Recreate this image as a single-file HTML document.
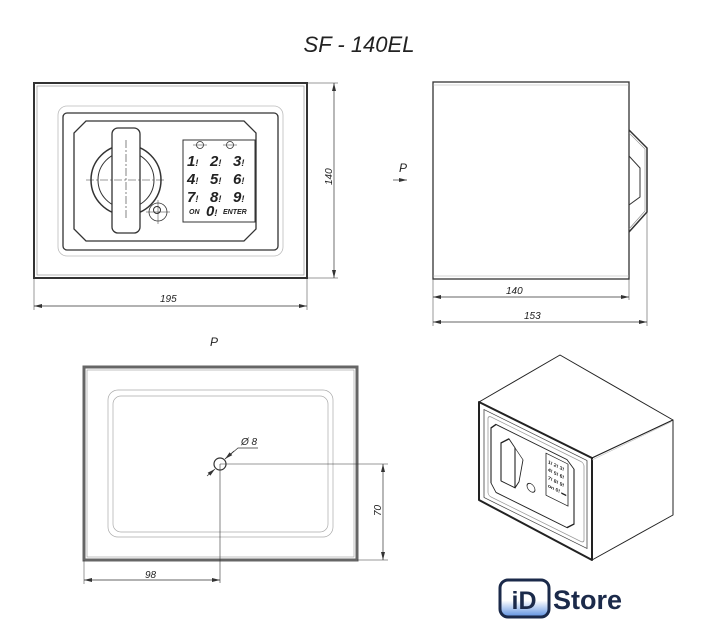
<!DOCTYPE html>
<html><head><meta charset="utf-8"><style>
html,body{margin:0;padding:0;background:#fff;width:706px;height:640px;overflow:hidden}
svg{display:block}
text{font-family:"Liberation Sans",sans-serif;font-style:italic;fill:#222}
text.n{font-style:normal;fill:#1b2a4a}
</style></head><body>
<svg width="706" height="640" viewBox="0 0 706 640" xmlns="http://www.w3.org/2000/svg">
<defs>
<marker id="a" markerWidth="8" markerHeight="6" refX="8" refY="3" orient="auto-start-reverse" markerUnits="userSpaceOnUse"><path d="M0,1 L8,3 L0,5 Z" fill="#333"/></marker>
<linearGradient id="g" x1="0" y1="0" x2="0" y2="1"><stop offset="0.55" stop-color="#fff"/><stop offset="1" stop-color="#5b8fe0"/></linearGradient>
</defs>
<text x="359" y="52" font-size="22" text-anchor="middle">SF - 140EL</text>

<!-- Front view -->
<g fill="none" stroke="#333">
<rect x="34" y="83" width="273" height="195" stroke-width="2"/>
<rect x="37" y="86" width="267" height="189" stroke="#999" stroke-width="0.7"/>
<rect x="58" y="106" width="225" height="150" rx="9" stroke="#bbb" stroke-width="0.8"/>
<rect x="63" y="113" width="215" height="137" rx="4" stroke-width="1.3"/>
<path d="M86,121 L244,121 L256,133 L256,229 L244,241 L86,241 L74,229 L74,133 Z" stroke-width="1.3"/>
<rect x="183" y="140" width="72" height="82" stroke-width="1"/>
<circle cx="126" cy="180" r="35" stroke-width="1.5"/>
<circle cx="126" cy="180" r="28" stroke-width="1"/>
<rect x="112" y="128" width="28" height="105" rx="6" fill="#fff" stroke-width="1.3"/>
<path d="M86,180 L166,180 M126,140 L126,220" stroke-width="0.6" stroke-dasharray="8,2,2,2"/>
<circle cx="158" cy="212" r="9" stroke-width="0.8"/>
<circle cx="157" cy="210" r="3.5" stroke-width="1"/>
<path d="M146,212 L170,212 M158,200 L158,224" stroke-width="0.5"/>
<circle cx="200" cy="145" r="3.5" stroke-width="0.8"/><circle cx="230" cy="145" r="3.5" stroke-width="0.8"/>
<path d="M193,145 L207,145 M223,145 L237,145" stroke-width="0.5"/>
<path d="M334,83 L334,278" marker-start="url(#a)" marker-end="url(#a)" stroke-width="0.7"/>
<path d="M307,83 L338,83 M307,278 L338,278 M34,278 L34,310 M307,278 L307,310" stroke-width="0.5"/>
<path d="M34,306 L307,306" marker-start="url(#a)" marker-end="url(#a)" stroke-width="0.7"/>
</g>
<g font-size="15" font-weight="bold">
<text x="187" y="166">1<tspan font-size="9">!</tspan></text><text x="210" y="166">2<tspan font-size="9">!</tspan></text><text x="233" y="166">3<tspan font-size="9">!</tspan></text>
<text x="187" y="184">4<tspan font-size="9">!</tspan></text><text x="210" y="184">5<tspan font-size="9">!</tspan></text><text x="233" y="184">6<tspan font-size="9">!</tspan></text>
<text x="187" y="202">7<tspan font-size="9">!</tspan></text><text x="210" y="202">8<tspan font-size="9">!</tspan></text><text x="233" y="202">9<tspan font-size="9">!</tspan></text>
<text x="189" y="214" font-size="7">ON</text><text x="206" y="216">0<tspan font-size="9">!</tspan></text><text x="223" y="214" font-size="7">ENTER</text>
</g>
<text x="0" y="0" font-size="10" transform="translate(332,185) rotate(-90)">140</text>
<text x="160" y="302" font-size="10">195</text>

<!-- Side view -->
<g fill="none" stroke="#333">
<rect x="433" y="82" width="196" height="197" stroke-width="1.3"/>
<path d="M433,85 L629,85 M433,276 L629,276" stroke="#aaa" stroke-width="0.6"/>
<path d="M629,130 L647,148 L647,212 L629,232" stroke-width="1.5"/>
<path d="M629,133 L645,149 L645,211 L629,229" stroke="#888" stroke-width="0.6"/>
<path d="M629,156 L640,168 L640,197 L629,205" stroke-width="1"/>
<path d="M393,180 L407,180" marker-end="url(#a)" stroke-width="0.7"/>
<path d="M433,279 L433,326 M629,279 L629,300 M647,212 L647,326" stroke-width="0.5"/>
<path d="M433,297 L629,297" marker-start="url(#a)" marker-end="url(#a)" stroke-width="0.7"/>
<path d="M433,322 L647,322" marker-start="url(#a)" marker-end="url(#a)" stroke-width="0.7"/>
</g>
<text x="399" y="172" font-size="12">P</text>
<text x="506" y="294" font-size="10">140</text>
<text x="524" y="319" font-size="10">153</text>

<!-- Bottom view -->
<text x="210" y="346" font-size="12">P</text>
<g fill="none" stroke="#333">
<rect x="84" y="367" width="273" height="193" stroke="#666" stroke-width="3"/>
<rect x="87" y="370" width="267" height="187" stroke="#999" stroke-width="0.6"/>
<rect x="108" y="390" width="225" height="147" rx="10" stroke="#aaa" stroke-width="0.7"/>
<rect x="113" y="396" width="215" height="136" rx="8" stroke="#aaa" stroke-width="0.7"/>
<circle cx="220" cy="464" r="6" stroke-width="1.2"/>
<path d="M220,464 L388,464 M220,464 L220,583" stroke-width="0.6"/>
<path d="M357,560 L388,560 M84,560 L84,584" stroke-width="0.5"/>
<path d="M383,464 L383,560" marker-start="url(#a)" marker-end="url(#a)" stroke-width="0.7"/>
<path d="M84,580 L220,580" marker-start="url(#a)" marker-end="url(#a)" stroke-width="0.7"/>
<path d="M225,459 L238,448 L258,448" stroke-width="0.7"/>
<path d="M207,476 L215,469" marker-end="url(#a)" stroke-width="0.7"/>
<path d="M234,451 L225,459" marker-end="url(#a)" stroke-width="0.7"/>
</g>
<text x="241" y="445" font-size="10">Ø 8</text>
<text x="0" y="0" font-size="10" transform="translate(381,516) rotate(-90)">70</text>
<text x="145" y="578" font-size="10">98</text>

<!-- Iso view -->
<g fill="#fff" stroke="#222" stroke-linejoin="round">
<path d="M479,402 L560,355 L673,420 L592,458 Z" stroke-width="1"/>
<path d="M592,458 L673,420 L673,515 L592,560 Z" stroke-width="1"/>
<path d="M479,402 L592,458 L592,560 L479,500 Z" stroke-width="2"/>
<path d="M592,460 L671,422" stroke="#bbb" stroke-width="0.6" fill="none"/>
<g transform="matrix(1,0.4956,0,1,479,402)" stroke-width="0.8">
<rect x="5" y="5" width="103" height="88" stroke="#444"/>
<rect x="9" y="9" width="96" height="80" rx="3" stroke="#999"/>
<path d="M17,14 L88,14 L95,20 L95,75 L88,82 L17,82 L12,75 L12,20 Z" stroke-width="1.1"/>
<path d="M22,30 L30,22 L36,28 L36,68 L22,68 Z" stroke-width="1.1"/>
<path d="M36,28 L44,36 L40,60 L36,68" fill="none"/>
<circle cx="52" cy="60" r="4"/>
<rect x="67" y="18" width="22" height="42" stroke-width="0.8"/>
<g fill="#222" stroke="none" font-weight="bold">
<text x="69" y="27" font-size="5">1! 2! 3!</text>
<text x="69" y="35" font-size="5">4! 5! 6!</text>
<text x="69" y="43" font-size="5">7! 8! 9!</text>
<text x="69" y="51" font-size="5">on 0! ▬</text>
</g>
</g>
</g>

<!-- Logo -->
<rect x="500" y="580" width="49" height="37" rx="8" fill="url(#g)" stroke="#1b2a4a" stroke-width="3"/>
<text class="n" x="524" y="609" font-size="25" font-weight="bold" text-anchor="middle">iD</text>
<text class="n" x="553" y="609" font-size="27" font-weight="bold">Store</text>
</svg>
</body></html>
